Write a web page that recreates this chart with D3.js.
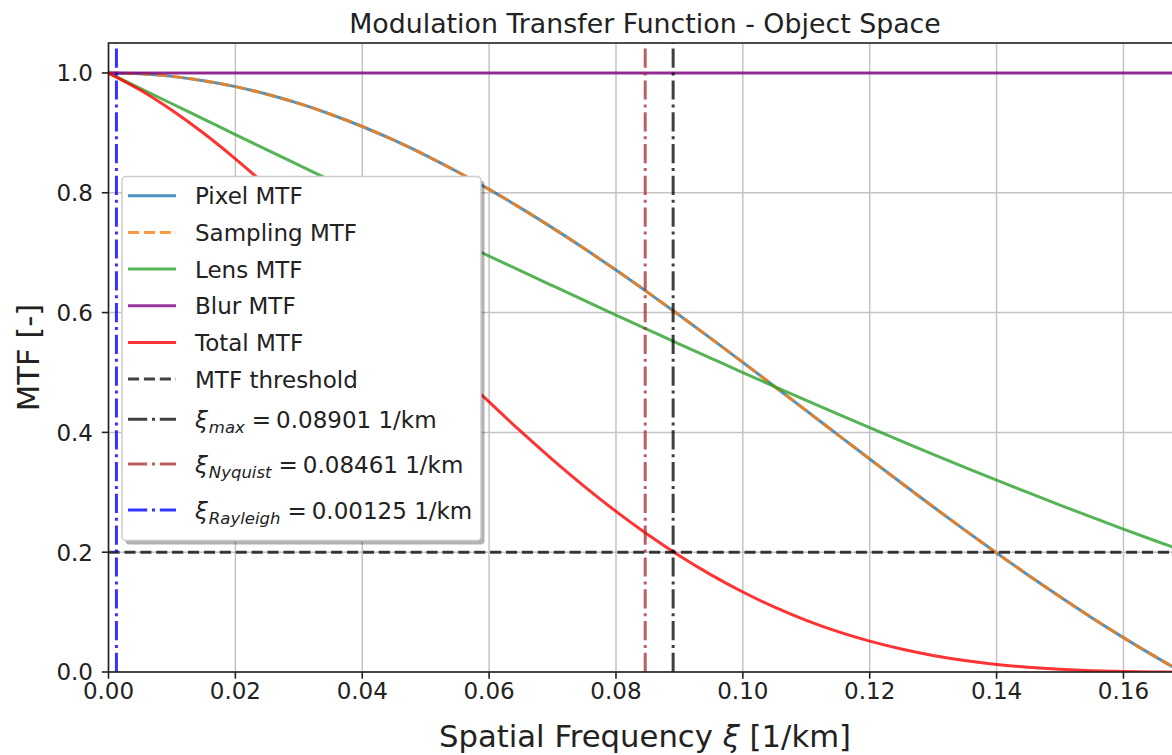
<!doctype html>
<html lang="en">
<head>
    <meta charset="utf-8">
    <title>MTF - Object Space</title>
    <script src="https://cdnjs.cloudflare.com/ajax/libs/d3/7.8.5/d3.min.js" type="text/JavaScript"></script>
    <style>
        body { margin: 0; background: #fff; }
        svg { display: block; font-family: "DejaVu Sans", sans-serif; }
    </style>
</head>
<body>
<div id="chart"></div>
<script>

    // spatial frequency samples [1/km]
    const xi = [0, 0.005, 0.01, 0.015, 0.02, 0.025, 0.03, 0.035, 0.04, 0.045, 0.05, 0.055,
        0.06, 0.065, 0.07, 0.075, 0.08, 0.085, 0.09, 0.095, 0.1, 0.105, 0.11, 0.115,
        0.12, 0.125, 0.13, 0.135, 0.14, 0.145, 0.15, 0.155, 0.16, 0.165, 0.1675, 0.16923];

    const pixelMTF = [1, 0.9986, 0.9943, 0.9871, 0.9772, 0.9645, 0.9491, 0.9311, 0.9106, 0.8877, 0.8625, 0.8351,
        0.8057, 0.7744, 0.7414, 0.7068, 0.6709, 0.6337, 0.5956, 0.5565, 0.5169, 0.4767, 0.4363, 0.3958,
        0.3555, 0.3154, 0.2758, 0.2368, 0.1987, 0.1615, 0.1255, 0.0907, 0.0574, 0.0256, 0.0103, 0];

    const samplingMTF = [1, 0.9986, 0.9943, 0.9871, 0.9772, 0.9645, 0.9491, 0.9311, 0.9106, 0.8877, 0.8625, 0.8351,
        0.8057, 0.7744, 0.7414, 0.7068, 0.6709, 0.6337, 0.5956, 0.5565, 0.5169, 0.4767, 0.4363, 0.3958,
        0.3555, 0.3154, 0.2758, 0.2368, 0.1987, 0.1615, 0.1255, 0.0907, 0.0574, 0.0256, 0.0103, 0];

    const lensMTF = [1, 0.9743, 0.9486, 0.9229, 0.8972, 0.8716, 0.8461, 0.8206, 0.7951, 0.7698, 0.7446, 0.7194,
        0.6944, 0.6695, 0.6448, 0.6202, 0.5957, 0.5716, 0.5474, 0.5236, 0.4999, 0.4765, 0.4533, 0.4304,
        0.4078, 0.3855, 0.3634, 0.3417, 0.3203, 0.2993, 0.2786, 0.2584, 0.2385, 0.2191, 0.2096, 0.2031];

    const blurXi = [0, 0.16923];
    const blurMTF = [1, 1];

    const totalMTF = [1, 0.9715, 0.9377, 0.8993, 0.8567, 0.8108, 0.7621, 0.7114, 0.6593, 0.6066, 0.5538, 0.5017,
        0.4508, 0.4015, 0.3544, 0.3098, 0.2681, 0.2295, 0.1942, 0.1622, 0.1335, 0.1083, 0.0863, 0.0674,
        0.0515, 0.0384, 0.0276, 0.0192, 0.0126, 0.0078, 0.0044, 0.0021, 0.0008, 0.0001, 0, 0];

    const threshold = 0.2;
    const xiMax = 0.08901;
    const xiNyquist = 0.08461;
    const xiRayleigh = 0.00125;

    const xTicks = [0, 0.02, 0.04, 0.06, 0.08, 0.10, 0.12, 0.14, 0.16];
    const yTicks = [0, 0.2, 0.4, 0.6, 0.8, 1.0];

    const W = 1172, H = 755;
    const pLeft = 108.5, pRight = 1182, pTop = 43, pBottom = 672;

    const x = d3.scaleLinear().domain([0, 0.16923]).range([pLeft, pRight]);
    const y = d3.scaleLinear().domain([0, 1.05]).range([pBottom, pTop]);

    const svg = d3.select("#chart").append("svg")
        .attr("width", W)
        .attr("height", H);

    svg.append("defs").append("clipPath").attr("id", "plotClip")
        .append("rect")
        .attr("x", pLeft).attr("y", pTop)
        .attr("width", pRight - pLeft).attr("height", pBottom - pTop);

    // grid
    const grid = svg.append("g").attr("stroke", "#c4c4c4").attr("stroke-width", 1.5);
    grid.selectAll(".gx").data(xTicks).join("line")
        .attr("x1", d => x(d)).attr("x2", d => x(d))
        .attr("y1", pTop).attr("y2", pBottom);
    grid.selectAll(".gy").data(yTicks).join("line")
        .attr("x1", pLeft).attr("x2", pRight)
        .attr("y1", d => y(d)).attr("y2", d => y(d));

    const plot = svg.append("g").attr("clip-path", "url(#plotClip)");

    const line = d3.line()
        .x(d => x(d[0]))
        .y(d => y(d[1]))
        .curve(d3.curveMonotoneX);

    const lw = 3;
    const dashed = "11.1,4.8";
    const dashdot = "19.2,4.8,3,4.8";

    function drawSeries(xs, ys, color, dash, opacity) {
        plot.append("path")
            .datum(d3.zip(xs, ys))
            .attr("fill", "none")
            .attr("stroke", color)
            .attr("stroke-opacity", opacity)
            .attr("stroke-width", lw)
            .attr("stroke-dasharray", dash)
            .attr("d", line);
    }

    drawSeries(xi, pixelMTF, "#1f77b4", null, 0.8);
    drawSeries(xi, samplingMTF, "#ff7f0e", dashed, 0.8);
    drawSeries(xi, lensMTF, "#2ca02c", null, 0.8);
    drawSeries(blurXi, blurMTF, "#800080", null, 0.8);
    drawSeries(xi, totalMTF, "#ff0000", null, 0.8);

    // threshold
    plot.append("line")
        .attr("x1", pLeft).attr("x2", pRight)
        .attr("y1", y(threshold)).attr("y2", y(threshold))
        .attr("stroke", "#000").attr("stroke-opacity", 0.75)
        .attr("stroke-width", lw).attr("stroke-dasharray", dashed);

    function vline(v, color, opacity) {
        plot.append("line")
            .attr("x1", x(v)).attr("x2", x(v))
            .attr("y1", pBottom).attr("y2", pTop)
            .attr("stroke", color).attr("stroke-opacity", opacity)
            .attr("stroke-width", lw).attr("stroke-dasharray", dashdot);
    }
    vline(xiMax, "#000", 0.75);
    vline(xiNyquist, "#a52a2a", 0.75);
    vline(xiRayleigh, "#0000ff", 0.8);

    // axes frame
    svg.append("rect")
        .attr("x", pLeft).attr("y", pTop)
        .attr("width", pRight - pLeft).attr("height", pBottom - pTop)
        .attr("fill", "none").attr("stroke", "#222").attr("stroke-width", 1.6);

    // ticks
    const xAxis = svg.append("g");
    xAxis.selectAll("line").data(xTicks).join("line")
        .attr("x1", d => x(d)).attr("x2", d => x(d))
        .attr("y1", pBottom).attr("y2", pBottom + 6.7)
        .attr("stroke", "#222").attr("stroke-width", 1.6);
    xAxis.selectAll("text").data(xTicks).join("text")
        .attr("x", d => x(d)).attr("y", 699)
        .attr("text-anchor", "middle")
        .attr("font-size", 23).attr("fill", "#222")
        .text(d => d3.format(".2f")(d));

    const yAxis = svg.append("g");
    yAxis.selectAll("line").data(yTicks).join("line")
        .attr("x1", pLeft - 6.7).attr("x2", pLeft)
        .attr("y1", d => y(d)).attr("y2", d => y(d))
        .attr("stroke", "#222").attr("stroke-width", 1.6);
    yAxis.selectAll("text").data(yTicks).join("text")
        .attr("x", 93).attr("y", d => y(d) + 8.4)
        .attr("text-anchor", "end")
        .attr("font-size", 23).attr("fill", "#222")
        .text(d => d3.format(".1f")(d));

    // labels
    svg.append("text")
        .attr("x", 645).attr("y", 33)
        .attr("text-anchor", "middle")
        .attr("font-size", 26.8).attr("fill", "#222")
        .text("Modulation Transfer Function - Object Space");

    const xl = svg.append("text")
        .attr("x", 645).attr("y", 747)
        .attr("text-anchor", "middle")
        .attr("font-size", 30.7).attr("fill", "#222");
    xl.append("tspan").text("Spatial Frequency ");
    xl.append("tspan").attr("font-style", "italic").text("ξ");
    xl.append("tspan").text(" [1/km]");

    svg.append("text")
        .attr("transform", `translate(39,${(pTop + pBottom) / 2}) rotate(-90)`)
        .attr("text-anchor", "middle")
        .attr("font-size", 30.7).attr("fill", "#222")
        .text("MTF [-]");

    // legend
    const legendItems = [
        {label: "Pixel MTF", color: "#1f77b4", dash: null},
        {label: "Sampling MTF", color: "#ff7f0e", dash: dashed},
        {label: "Lens MTF", color: "#2ca02c", dash: null},
        {label: "Blur MTF", color: "#800080", dash: null},
        {label: "Total MTF", color: "#ff0000", dash: null},
        {label: "MTF threshold", color: "#000", dash: dashed, op: 0.75},
        {sub: "max", value: xiMax, color: "#000", dash: dashdot, op: 0.75},
        {sub: "Nyquist", value: xiNyquist, color: "#a52a2a", dash: dashdot, op: 0.75},
        {sub: "Rayleigh", value: xiRayleigh, color: "#0000ff", dash: dashdot, op: 0.8}
    ];
    const rowY = [195.7, 232.4, 269, 305.7, 342.4, 379, 419.3, 464, 510];

    const lg = svg.append("g");
    lg.append("rect")
        .attr("x", 125.5).attr("y", 180.5)
        .attr("width", 359).attr("height", 364).attr("rx", 4)
        .attr("fill", "#000").attr("fill-opacity", 0.3);
    lg.append("rect")
        .attr("x", 122).attr("y", 176.5)
        .attr("width", 359).attr("height", 364).attr("rx", 4)
        .attr("fill", "#fff").attr("stroke", "#cccccc").attr("stroke-width", 1.5);

    legendItems.forEach((d, i) => {
        const cy = rowY[i];
        lg.append("line")
            .attr("x1", 128).attr("x2", 176)
            .attr("y1", cy).attr("y2", cy)
            .attr("stroke", d.color).attr("stroke-opacity", d.op || 0.8)
            .attr("stroke-width", lw).attr("stroke-dasharray", d.dash);
        const t = lg.append("text")
            .attr("x", 195).attr("y", cy + 8.5)
            .attr("font-size", 23).attr("fill", "#222");
        if (d.sub) {
            t.append("tspan").attr("font-style", "italic").text("ξ");
            t.append("tspan").attr("font-style", "italic").attr("font-size", 16.5)
                .attr("dy", 5).attr("dx", 1).text(d.sub);
            t.append("tspan").attr("dy", -5).attr("dx", 7).text("=");
            t.append("tspan").attr("dx", 5).text(d3.format(".5f")(d.value) + " 1/km");
        } else {
            t.text(d.label);
        }
    });

</script>
</body>
</html>
